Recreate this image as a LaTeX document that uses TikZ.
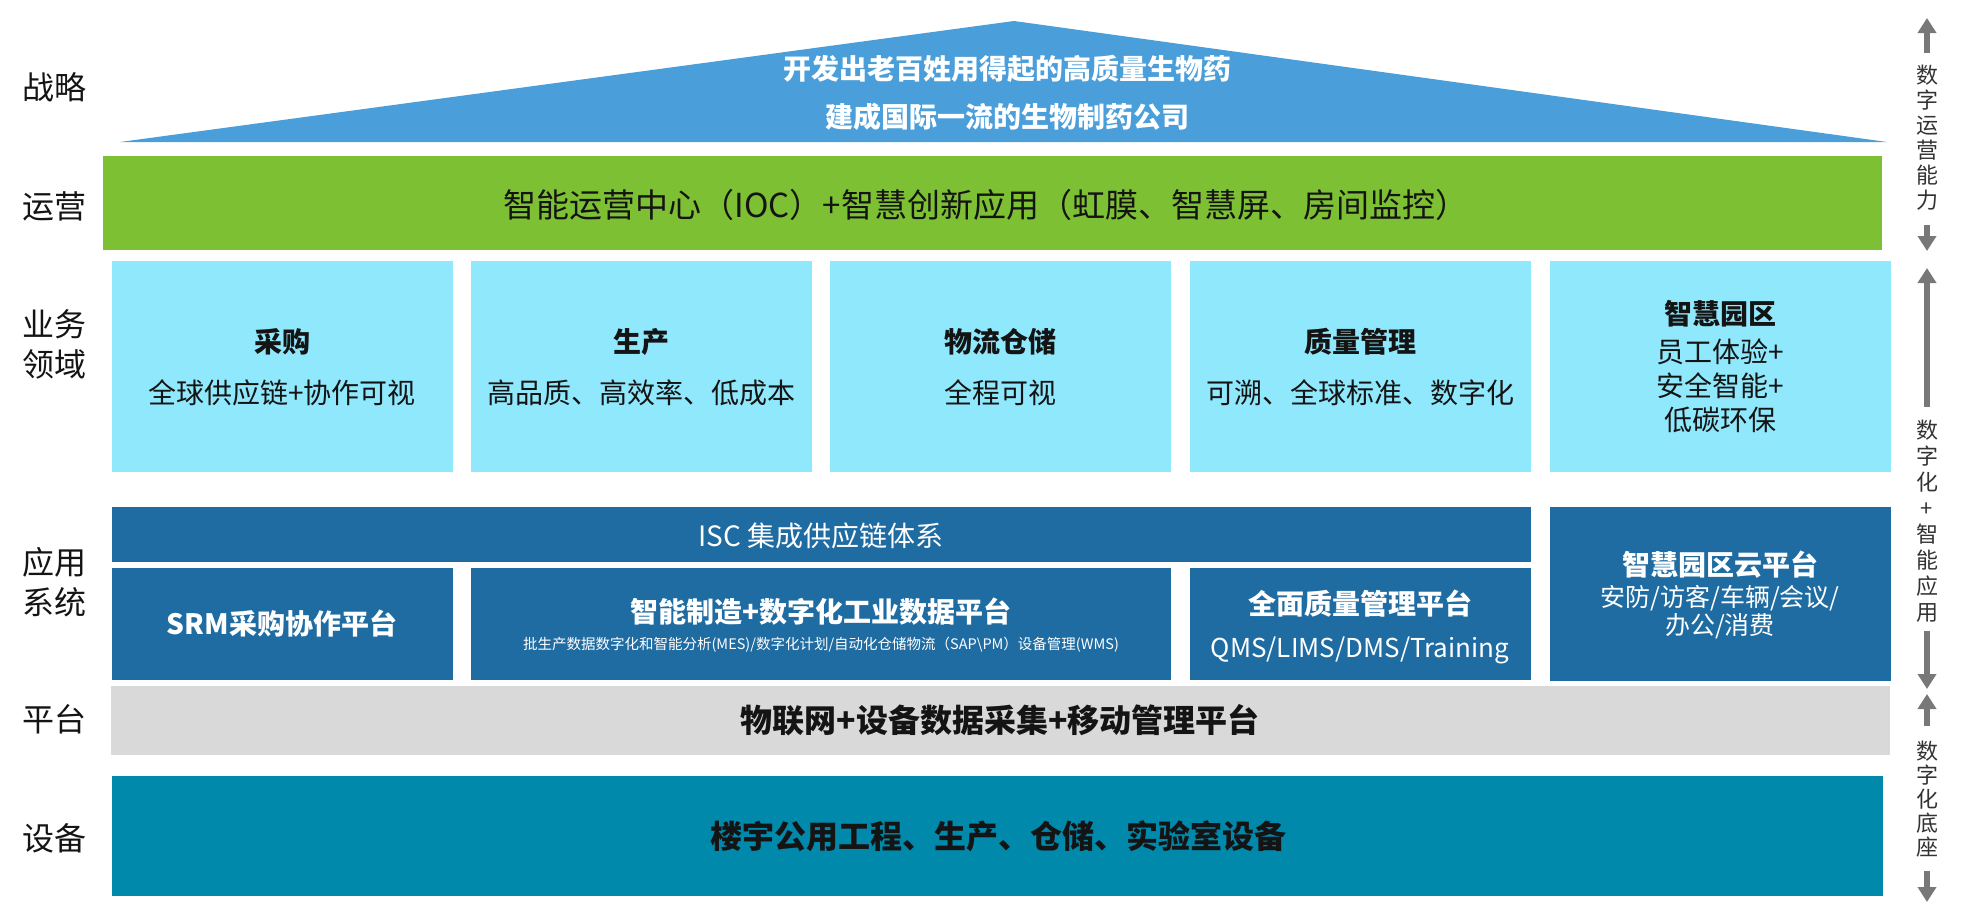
\documentclass[tikz,border=0pt]{standalone}
\usepackage{fontspec}
\setmainfont{Noto Sans CJK SC}
\usetikzlibrary{arrows.meta,fit}
\definecolor{triblue}{RGB}{74,159,219}
\definecolor{opgreen}{RGB}{125,192,51}
\definecolor{lblue}{RGB}{143,232,252}
\definecolor{dblue}{RGB}{31,108,162}
\definecolor{pgray}{RGB}{217,217,217}
\definecolor{tealb}{RGB}{0,137,171}
\definecolor{agray}{RGB}{120,120,120}
\definecolor{txtdark}{RGB}{20,20,20}
\newcommand\fs[2]{\fontsize{#1pt}{#2pt}\selectfont}
\tikzset{
  blk/.style={fill=#1, draw=none, inner sep=0pt, outer sep=0pt},
  txt/.style={inner sep=0pt, outer sep=0pt, align=center, text=txtdark},
  wtxt/.style={inner sep=0pt, outer sep=0pt, align=center, text=white},
  sidelbl/.style={txt, font=\fs{32}{40}},
  rlbl/.style={inner sep=0pt, align=center, text=black!80},
  garrow/.style={draw=agray, line width=6.5pt, -{Triangle[width=18pt,length=15pt]}},
}
\begin{document}
\begin{tikzpicture}[x=1pt,y=-1pt]
\useasboundingbox (0,0) rectangle (1962,919);

% left labels
\node[sidelbl] (lz) at (54,87) {战略};
\node[sidelbl] (ly) at (54,206) {运营};
\node[sidelbl] (lb) at (54,344) {业务\\领域};
\node[sidelbl] (la) at (54,582) {应用\\系统};
\node[sidelbl] (lp) at (54,719) {平台};
\node[sidelbl] (ld) at (54,838) {设备};

% strategy triangle
\coordinate (tl) at (120,142);
\coordinate (tt) at (1014,21);
\coordinate (tr) at (1887,142);
\fill[triblue] (tl) -- (tt) -- (tr) -- cycle;
\node[wtxt, font=\bfseries\fs{28}{34}] (s1) at (1007,69) {开发出老百姓用得起的高质量生物药};
\node[wtxt, font=\bfseries\fs{28}{34}] (s2) at (1007,117) {建成国际一流的生物制药公司};

% operations
\node[blk=opgreen, fit={(103,156)(1882,250)}] (ops) {};
\node[txt, font=\fs{33}{38}] (opst) at (986,205) {智能运营中心（IOC）+智慧创新应用（虹膜、智慧屏、房间监控）};

% business domains
\node[blk=lblue, fit={(112,261)(453,472)}] (b1) {};
\node[blk=lblue, fit={(471,261)(812,472)}] (b2) {};
\node[blk=lblue, fit={(830,261)(1171,472)}] (b3) {};
\node[blk=lblue, fit={(1190,261)(1531,472)}] (b4) {};
\node[blk=lblue, fit={(1550,261)(1891,472)}] (b5) {};
\node[txt, font=\bfseries\fs{28}{34}] (b1t) at (282,342) {采购};
\node[txt, font=\fs{28}{34}] (b1s) at (282,393) {全球供应链+协作可视};
\node[txt, font=\bfseries\fs{28}{34}] (b2t) at (641,342) {生产};
\node[txt, font=\fs{28}{34}] (b2s) at (641,393) {高品质、高效率、低成本};
\node[txt, font=\bfseries\fs{28}{34}] (b3t) at (1000,342) {物流仓储};
\node[txt, font=\fs{28}{34}] (b3s) at (1000,393) {全程可视};
\node[txt, font=\bfseries\fs{28}{34}] (b4t) at (1360,342) {质量管理};
\node[txt, font=\fs{28}{34}] (b4s) at (1360,393) {可溯、全球标准、数字化};
\node[txt, font=\bfseries\fs{28}{34}] (b5t) at (1720,314) {智慧园区};
\node[txt, font=\fs{28}{34}] (b5s) at (1720,386) {员工体验+\\安全智能+\\低碳环保};

% application systems
\node[blk=dblue, fit={(112,507)(1531,562)}] (isc) {};
\node[wtxt, font=\fs{28}{34}] (isct) at (821,536) {ISC 集成供应链体系};
\node[blk=dblue, fit={(112,568)(453,680)}] (srm) {};
\node[blk=dblue, fit={(471,568)(1171,680)}] (mfg) {};
\node[blk=dblue, fit={(1190,568)(1531,680)}] (qms) {};
\node[blk=dblue, fit={(1550,507)(1891,681)}] (park) {};
\node[wtxt, font=\bfseries\fs{28}{34}] (srmt) at (282,624) {SRM采购协作平台};
\node[wtxt, font=\bfseries\fs{28}{34}] (mfgt) at (821,612) {智能制造+数字化工业数据平台};
\node[wtxt, font=\fs{14.5}{18}] (mfgs) at (821,645) {批生产数据数字化和智能分析(MES)/数字化计划/自动化仓储物流（SAP\textbackslash PM）设备管理(WMS)};
\node[wtxt, font=\bfseries\fs{28}{34}] (qmst) at (1360,604) {全面质量管理平台};
\node[wtxt, font=\fs{26}{30}] (qmss) at (1360,650) {QMS/LIMS/DMS/Training};
\node[wtxt, font=\bfseries\fs{28}{34}] (parkt) at (1720,565) {智慧园区云平台};
\node[wtxt, font=\fs{25}{28}] (parks) at (1720,612) {安防/访客/车辆/会议/\\办公/消费};

% platform
\node[blk=pgray, fit={(111,686)(1890,755)}] (plat) {};
\node[txt, font=\bfseries\fs{32}{38}] (platt) at (1000,720) {物联网+设备数据采集+移动管理平台};

% devices
\node[blk=tealb, fit={(112,776)(1883,896)}] (dev) {};
\node[txt, font=\bfseries\fs{32}{38}] (devt) at (998,836) {楼宇公用工程、生产、仓储、实验室设备};

% right column
\node[rlbl, font=\fs{22}{25}] (r1) at (1927,138) {数\\字\\运\\营\\能\\力};
\coordinate (r1a) at (1927,53);
\coordinate (r1b) at (1927,18);
\coordinate (r1c) at (1927,225);
\coordinate (r1d) at (1927,251);
\draw[garrow] (r1a) -- (r1b);
\draw[garrow] (r1c) -- (r1d);

\node[rlbl, font=\fs{22}{26}] (r2) at (1927,521) {数\\字\\化\\+\\智\\能\\应\\用};
\coordinate (r2a) at (1927,407);
\coordinate (r2b) at (1927,268);
\coordinate (r2c) at (1927,631);
\coordinate (r2d) at (1927,689);
\draw[garrow] (r2a) -- (r2b);
\draw[garrow] (r2c) -- (r2d);

\node[rlbl, font=\fs{22}{24}] (r3) at (1927,799) {数\\字\\化\\底\\座};
\coordinate (r3a) at (1927,726);
\coordinate (r3b) at (1927,694);
\coordinate (r3c) at (1927,871);
\coordinate (r3d) at (1927,902);
\draw[garrow] (r3a) -- (r3b);
\draw[garrow] (r3c) -- (r3d);
\end{tikzpicture}
\end{document}
